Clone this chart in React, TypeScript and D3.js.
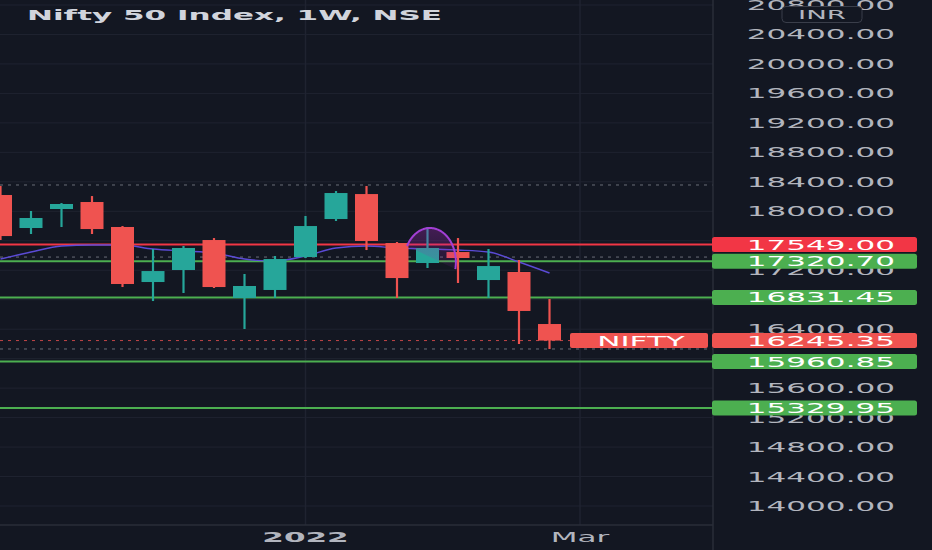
import React from 'react';
import * as d3 from 'd3';

// weekly OHLC (Oct 2021 - early Mar 2022)
const weeks = [
  '2021-10-25', '2021-11-01', '2021-11-08', '2021-11-15', '2021-11-22', '2021-11-29',
  '2021-12-06', '2021-12-13', '2021-12-20', '2021-12-27', '2022-01-03', '2022-01-10',
  '2022-01-17', '2022-01-24', '2022-01-31', '2022-02-07', '2022-02-14', '2022-02-21',
  '2022-02-28',
];
const opens = [18221, 17773, 18031, 18126, 17787, 17040, 17203, 17610, 16823, 16932, 17379, 17895, 18234, 17569, 17298, 17447, 17067, 17176, 16470];
const highs = [18343, 18004, 18112, 18207, 17800, 17488, 17529, 17637, 17149, 17393, 17936, 18275, 18343, 17583, 17787, 17637, 17488, 17339, 16809];
const lows = [17610, 17692, 17787, 17692, 16972, 16782, 16891, 16959, 16402, 16823, 17366, 17868, 17474, 16823, 17230, 17027, 16823, 16199, 16131];
const closes = [17664, 17909, 18099, 17759, 17013, 17189, 17502, 16972, 16986, 17352, 17800, 18248, 17597, 17094, 17502, 17366, 17257, 16647, 16245.35];

// thin purple average line, one value per week
const avgValues = [17352, 17447, 17529, 17542, 17542, 17488, 17461, 17434, 17352, 17325, 17393, 17502, 17529, 17502, 17488, 17474, 17447, 17312, 17162];

// horizontal levels drawn on the chart
const levelPrices = [17549, 17320.7, 16831.45, 15960.85, 15329.95];
const levelLabels = ['17549.00', '17320.70', '16831.45', '15960.85', '15329.95'];
const levelIsRed = [true, false, false, false, false];

const dottedPrices = [18357, 17379, 16131];
const lastPrice = 16245.35;
const lastLabel = '16245.35';
const symbolLabel = 'NIFTY';

const priceTicks = [14000, 14400, 14800, 15200, 15600, 16000, 16400, 16800, 17200, 17600, 18000, 18400, 18800, 19200, 19600, 20000, 20400, 20800];
const timeTickIndex = [10, 19];
const timeTickLabels = ['2022', 'Mar'];
const timeTickBold = [true, false];

// arc drawing (week index / price units)
const arcCenterIdx = 14.08;
const arcCenterPrice = 17312;
const arcRadiusIdx = 0.85;
const arcRadiusPrice = 461;

const W = 932;
const H = 550;
const PLOT_R = 713;
const AXIS_Y = 525;
const SX = 2.3; // the screenshot is stretched horizontally
const FONT = '"DejaVu Sans", sans-serif';

const BG = '#131722';
const GRID = '#1f2330';
const UP = '#26a69a';
const DOWN = '#ef5350';
const LEVEL_RED = '#f23645';
const LEVEL_GREEN = '#4caf50';
const TXT = '#b2b5be';

function SText({ x, y, anchor = 'end', fill = TXT, size = 13.5, weight = 'normal', children }: any) {
  return (
    <text
      transform={`translate(${x},${y}) scale(${SX},1)`}
      textAnchor={anchor}
      fill={fill}
      fontSize={size}
      fontWeight={weight}
      fontFamily={FONT}
    >
      {children}
    </text>
  );
}

export default function App() {
  const x = d3.scaleLinear().domain([0, 18]).range([0.5, 549.5]);
  const y = d3.scaleLinear().domain([14000, 20800]).range([506, 5]);
  const bodyW = 23;

  const avgLine = d3.line<number>()
    .x((_, i) => x(i))
    .y(d => y(d))
    .curve(d3.curveMonotoneX)(avgValues);

  // elliptic arc from upper-left foot, over the top, down the right side
  const arcPts = d3.range(152, -13, -2).map(deg => {
    const t = (deg * Math.PI) / 180;
    return [x(arcCenterIdx + arcRadiusIdx * Math.cos(t)), y(arcCenterPrice + arcRadiusPrice * Math.sin(t))] as [number, number];
  });
  const arcLine = d3.line()(arcPts);
  const arcFill = arcLine + 'Z';

  // axis labels that sit right under a price box are hidden, like the reference
  const boxPrices = [...levelPrices, lastPrice];
  const visibleTicks = priceTicks.filter(p => boxPrices.every(b => Math.abs(y(p) - y(b)) > 6));

  return (
    <svg width={W} height={H} style={{ position: 'absolute', left: 0, top: 0, background: BG }}>
      <defs>
        <linearGradient id="arcGrad" x1="0" y1="0" x2="0" y2="1">
          <stop offset="0%" stopColor="#9c27b0" stopOpacity={0.35} />
          <stop offset="100%" stopColor="#9c27b0" stopOpacity={0.08} />
        </linearGradient>
        <clipPath id="plot">
          <rect x={0} y={0} width={PLOT_R} height={AXIS_Y} />
        </clipPath>
      </defs>
      <rect width={W} height={H} fill={BG} />

      {/* grid */}
      {priceTicks.map(p => (
        <line key={p} x1={0} x2={PLOT_R} y1={y(p)} y2={y(p)} stroke={GRID} strokeWidth={1} />
      ))}
      {timeTickIndex.map(i => (
        <line key={i} x1={x(i)} x2={x(i)} y1={0} y2={AXIS_Y} stroke={GRID} strokeWidth={1.5} />
      ))}

      <g clipPath="url(#plot)">
        {/* dotted range lines */}
        {dottedPrices.map(p => (
          <line key={p} x1={0} x2={PLOT_R} y1={y(p)} y2={y(p)} stroke="#6a6d78" strokeWidth={1} strokeDasharray="3 5" />
        ))}
        <line x1={0} x2={570} y1={y(lastPrice)} y2={y(lastPrice)} stroke={DOWN} strokeOpacity={0.8} strokeWidth={1} strokeDasharray="3 5" />

        {/* level lines */}
        {levelPrices.map((p, i) => (
          <line key={p} x1={0} x2={PLOT_R} y1={y(p)} y2={y(p)} stroke={levelIsRed[i] ? LEVEL_RED : LEVEL_GREEN} strokeWidth={2} />
        ))}

        <path d={avgLine || ''} fill="none" stroke="#5b4bd6" strokeWidth={1.4} />

        {/* candles */}
        {weeks.map((w, i) => {
          const up = closes[i] >= opens[i];
          const c = up ? UP : DOWN;
          const top = y(Math.max(opens[i], closes[i]));
          const bot = y(Math.min(opens[i], closes[i]));
          return (
            <g key={w}>
              <line x1={x(i)} x2={x(i)} y1={y(highs[i])} y2={y(lows[i])} stroke={c} strokeWidth={2.2} />
              <rect x={x(i) - bodyW / 2} y={top} width={bodyW} height={Math.max(1.5, bot - top)} fill={c} />
            </g>
          );
        })}

        <path d={arcFill} fill="url(#arcGrad)" stroke="none" />
        <path d={arcLine || ''} fill="none" stroke="#a23fd4" strokeWidth={2} />
      </g>

      {/* axes frame */}
      <line x1={PLOT_R} x2={PLOT_R} y1={0} y2={H} stroke="#2a2e39" strokeWidth={1.5} />
      <line x1={0} x2={PLOT_R} y1={AXIS_Y} y2={AXIS_Y} stroke="#2a2e39" strokeWidth={1.5} />

      {/* price tick labels */}
      {visibleTicks.map(p => (
        <SText key={p} x={895} y={y(p) + 5}>{d3.format('.2f')(p)}</SText>
      ))}

      {/* INR badge */}
      <rect x={782} y={6.5} width={80} height={16} rx={4} fill={BG} stroke="#3a3e4a" strokeWidth={1} />
      <SText x={822} y={19} anchor="middle" size={12}>INR</SText>

      {/* level price boxes */}
      {levelPrices.map((p, i) => (
        <g key={p}>
          <rect x={712} y={y(p) - 7.5} width={205} height={15} rx={2.5} fill={levelIsRed[i] ? LEVEL_RED : LEVEL_GREEN} />
          <SText x={895} y={y(p) + 5} fill="#ffffff">{levelLabels[i]}</SText>
        </g>
      ))}

      {/* last price + symbol label */}
      <rect x={570} y={y(lastPrice) - 7.5} width={138} height={15} rx={2} fill={DOWN} />
      <SText x={641} y={y(lastPrice) + 5} anchor="middle" fill="#ffffff">{symbolLabel}</SText>
      <rect x={712} y={y(lastPrice) - 7.5} width={205} height={15} rx={2.5} fill={DOWN} />
      <SText x={895} y={y(lastPrice) + 5} fill="#ffffff">{lastLabel}</SText>

      {/* time labels */}
      {timeTickIndex.map((i, k) => (
        <SText key={i} x={x(i)} y={542} anchor="middle" weight={timeTickBold[k] ? 'bold' : 'normal'}>{timeTickLabels[k]}</SText>
      ))}

      {/* title */}
      <SText x={27} y={20} anchor="start" fill="#d1d4dc" weight="bold">Nifty 50 Index, 1W, NSE</SText>
    </svg>
  );
}
